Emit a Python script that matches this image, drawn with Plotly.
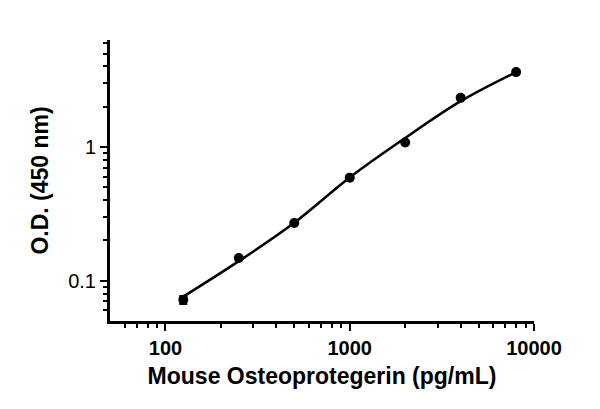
import plotly.graph_objects as go

# Measured standards
conc = [125, 250, 500, 1000, 2000, 4000, 8000]
od = [0.072, 0.148, 0.27, 0.59, 1.08, 2.33, 3.63]
od_err = [0.005, 0.002, 0.002, 0.003, 0.004, 0.006, 0.005]

# Fitted curve
fit_conc = [125, 250, 500, 1000, 2000, 4000, 8000]
fit_od = [0.076, 0.140, 0.271, 0.592, 1.167, 2.20, 3.63]

x_ticks = [100, 1000, 10000]
x_ticklabels = ["<b>100</b>", "<b>1000</b>", "<b>10000</b>"]
x_minor = [60, 70, 80, 90, 200, 300, 400, 500, 600, 700, 800, 900,
           2000, 3000, 4000, 5000, 6000, 7000, 8000, 9000]
y_ticks = [0.1, 1]
y_ticklabels = ["0.1", "1"]
y_minor = [0.06, 0.07, 0.08, 0.09, 0.2, 0.3, 0.4, 0.5, 0.6, 0.7, 0.8, 0.9,
           2, 3, 4, 5, 6]

FONT = "Arial, Liberation Sans, sans-serif"

fig = go.Figure()
fig.add_trace(go.Scatter(
    x=fit_conc, y=fit_od, mode="lines",
    line=dict(color="black", width=2.6, shape="spline"),
    showlegend=False, hoverinfo="skip"))
fig.add_trace(go.Scatter(
    x=conc, y=od, mode="markers",
    marker=dict(color="black", size=10),
    error_y=dict(type="data", array=od_err, color="black", thickness=2, width=4),
    showlegend=False))

axis_common = dict(
    type="log", showgrid=False, zeroline=False, showline=True,
    linecolor="black", linewidth=3, ticks="outside", ticklen=7,
    tickwidth=2, tickcolor="black", mirror=False,
)

fig.update_layout(
    width=600, height=409,
    margin=dict(l=110, r=66, t=40, b=88),
    paper_bgcolor="white", plot_bgcolor="white",
    font=dict(family=FONT, color="black", size=20),
    xaxis=dict(
        **axis_common,
        range=[1.699, 4.0],
        tickmode="array", tickvals=x_ticks, ticktext=x_ticklabels,
        tickfont=dict(size=20, family=FONT, color="black"),
        minor=dict(tickmode="array", tickvals=x_minor, ticks="outside",
                   ticklen=4, tickwidth=2, tickcolor="black"),
        title=dict(text="<b>Mouse Osteoprotegerin (pg/mL)</b>",
                   font=dict(size=23, family=FONT, color="black"), standoff=10),
    ),
    yaxis=dict(
        **axis_common,
        range=[-1.301, 0.8],
        tickmode="array", tickvals=y_ticks, ticktext=y_ticklabels,
        tickfont=dict(size=20, family=FONT, color="black"),
        minor=dict(tickmode="array", tickvals=y_minor, ticks="outside",
                   ticklen=4, tickwidth=2, tickcolor="black"),
        title=dict(text="<b>O.D. (450 nm)</b>",
                   font=dict(size=23, family=FONT, color="black"), standoff=14),
    ),
)

fig.write_html("out.html")
